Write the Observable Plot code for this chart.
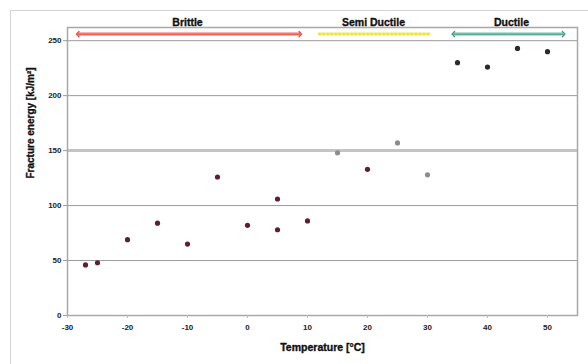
<!DOCTYPE html>
<html>
<head>
<meta charset="utf-8">
<script src="https://cdn.jsdelivr.net/npm/d3@7"></script>
<script src="https://cdn.jsdelivr.net/npm/@observablehq/plot@0.6"></script>
<style>
html,body{margin:0;padding:0;background:#fff;width:588px;height:364px;overflow:hidden;}
#wrap{position:relative;width:588px;height:364px;}
#outer{position:absolute;left:10px;top:10px;width:600px;height:400px;border:1px solid #d4d4d4;box-sizing:border-box;}
#chart{position:absolute;left:0;top:0;}
</style>
</head>
<body>
<div id="wrap"><div id="outer"></div><div id="chart"></div></div>
<script>
const temperatures = [-27, -25, -20, -15, -10, -5, 0, 5, 5, 10, 15, 20, 25, 30, 35, 40, 45, 50];
const energies     = [46, 48, 69, 84, 65, 126, 82, 106, 78, 86, 148, 133, 157, 128, 230, 226, 243, 240];
const phases       = ["Brittle","Brittle","Brittle","Brittle","Brittle","Brittle","Brittle","Brittle","Brittle","Brittle","Semi","Brittle","Semi","Semi","Ductile","Ductile","Ductile","Ductile"];

const regionNames  = ["Brittle", "Semi Ductile", "Ductile"];
const regionStart  = [-28.3, 11.8, 34.3];
const regionEnd    = [8.8, 30.5, 52.7];
const regionLabelX = [-10, 21, 44];
const regionArrows = [true, false, true];
const regionLevel  = 256;
const regionLabelLevel = 266;

const xTicks = [-30, -20, -10, 0, 10, 20, 30, 40, 50];
const yTicks = [0, 50, 100, 150, 200, 250];
const gridLines = [50, 100, 200, 250];
const thickGrid = [150];

const points = temperatures.map((t, i) => ({t, e: energies[i], phase: phases[i]}));
const regions = regionNames.map((n, i) => ({name: n, x1: regionStart[i], x2: regionEnd[i], mid: (regionStart[i] + regionEnd[i]) / 2, lx: regionLabelX[i], arrow: regionArrows[i]}));
const arrowHalves = regions.filter(d => d.arrow).flatMap(d => [
  {name: d.name, from: d.mid, to: d.x1},
  {name: d.name, from: d.mid, to: d.x2}
]);

const pointColor = d3.scaleOrdinal(["Brittle","Semi","Ductile"], ["#5e1f33", "#8c8c8c", "#2b2b2b"]);
const regionColor = d3.scaleOrdinal(regionNames, ["#e8473b", "#ece13a", "#3d9a83"]);
const regionHalo = d3.scaleOrdinal(regionNames, ["#f6b4ae", "#f7f3b0", "#b8dfd4"]);

const textStyle = {fill: "#111", stroke: "#111", strokeWidth: 0.35, fontWeight: "bold"};

const chart = Plot.plot({
  width: 588,
  height: 364,
  marginLeft: 67,
  marginTop: 27,
  marginBottom: 49,
  marginRight: 11,
  style: {fontFamily: "Liberation Sans, Arial, sans-serif", fontSize: "8px", fontWeight: "bold", color: "#111", background: "transparent"},
  x: {domain: [-30, 55], label: null},
  y: {domain: [0, 262], label: null},
  marks: [
    Plot.ruleY(gridLines, {stroke: "#9a9a9a", strokeWidth: 1}),
    Plot.ruleY(thickGrid, {stroke: "#c4c4c4", strokeWidth: 3}),
    Plot.frame({stroke: "#a8a8a8", strokeWidth: 1.5}),
    Plot.axisX({ticks: xTicks, tickFormat: d => String(d), tickSize: 3, tickPadding: 6, stroke: "#bbb", fontWeight: "bold", fontSize: 8, fill: "#222"}),
    Plot.axisY({ticks: yTicks, tickFormat: d => String(d), tickSize: 4, tickPadding: 2, stroke: "#999", fontWeight: "bold", fontSize: 8, fill: "#222"}),
    Plot.link(regions, {x1: "x1", x2: "x2", y1: regionLevel, y2: regionLevel, stroke: d => regionHalo(d.name), strokeWidth: 4}),
    Plot.link(arrowHalves, {x1: "from", x2: "to", y1: regionLevel, y2: regionLevel, stroke: d => regionColor(d.name), strokeWidth: 1.3, markerEnd: "arrow"}),
    Plot.link(regions.filter(d => !d.arrow), {x1: "x1", x2: "x2", y1: regionLevel, y2: regionLevel, stroke: d => regionColor(d.name), strokeWidth: 2, strokeDasharray: "3,1"}),
    Plot.text(regions, {x: "lx", y: regionLabelLevel, text: "name", fontSize: 10.5, ...textStyle}),
    Plot.dot(points, {x: "t", y: "e", r: 2.6, fill: d => pointColor(d.phase), stroke: "none"}),
    Plot.text(["Temperature [°C]"], {frameAnchor: "bottom", dy: 35, fontSize: 10.5, ...textStyle, text: d => d}),
    Plot.text(["Fracture energy [kJ/m²]"], {frameAnchor: "left", dx: -37, dy: 7, rotate: -90, fontSize: 10, ...textStyle, text: d => d})
  ]
});
document.getElementById("chart").appendChild(chart);
</script>
</body>
</html>
